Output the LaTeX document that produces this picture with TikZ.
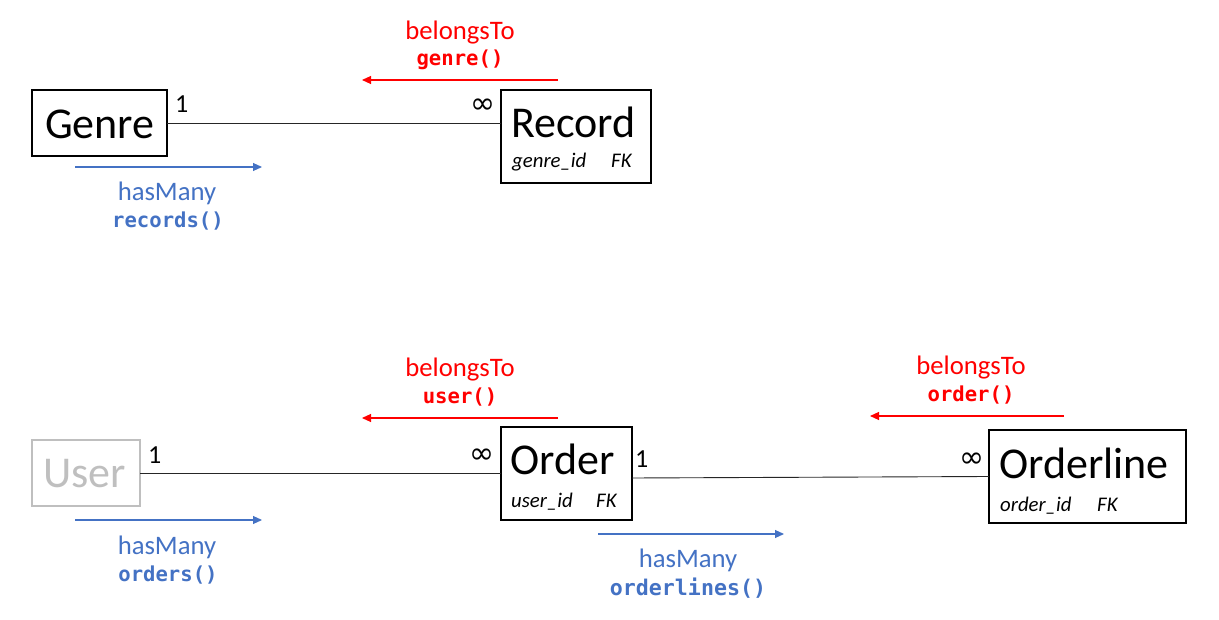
\documentclass[tikz,border=0pt]{standalone}
\usepackage{fontspec}
\setmainfont{Carlito}
\newfontfamily\codefont{DejaVu Sans Mono}
\newfontfamily\symfont{DejaVu Sans}
\usetikzlibrary{arrows.meta}
\definecolor{relred}{HTML}{FF0000}
\definecolor{relblue}{HTML}{4472C4}
\definecolor{ghost}{HTML}{BFBFBF}
\begin{document}
\begin{tikzpicture}[x=1pt,y=-1pt,
  ebox/.style={draw, line width=1.2pt, inner sep=0pt, outer sep=0pt},
  bigtxt/.style={inner sep=0pt, anchor=base west, font=\fontsize{44}{50}\selectfont},
  subtxt/.style={inner sep=0pt, anchor=base west, font=\fontsize{20.8}{24}\selectfont\itshape},
  card/.style={inner sep=0pt, anchor=base west, font=\fontsize{26}{28}\selectfont},
  many/.style={inner sep=0pt, anchor=center, font=\fontsize{30}{32}\selectfont\symfont},
  rel/.style={inner sep=0pt, anchor=base, font=\fontsize{26.7}{30}\selectfont},
  code/.style={inner sep=0pt, anchor=base, font=\fontsize{20.6}{24}\selectfont\codefont\bfseries},
  link/.style={line width=0.9pt, draw=black!85},
  dirarrow/.style={line width=1.1pt, -{Triangle[length=9pt,width=8pt]}},
]
\useasboundingbox (0,0) rectangle (1219,620);

% entity boxes
\node[ebox, minimum width=135pt, minimum height=66pt] (genre) at (99.5,123) {};
\node[ebox, minimum width=150pt, minimum height=93pt] (record) at (576,136.5) {};
\node[ebox, draw=ghost, minimum width=108pt, minimum height=66pt] (user) at (86,473) {};
\node[ebox, minimum width=131pt, minimum height=93pt] (order) at (566.5,473.5) {};
\node[ebox, minimum width=197pt, minimum height=93pt] (orderline) at (1087.5,476.5) {};

% entity texts
\node[bigtxt] (genreT) at (45,139) {Genre};
\node[bigtxt] (recordT) at (511,138) {Record};
\node[subtxt] (recordK) at (512,168) {genre\_id};
\node[subtxt] (recordFK) at (611,168) {FK};
\node[bigtxt, text=ghost] (userT) at (43,487) {User};
\node[bigtxt] (orderT) at (510,474) {Order};
\node[subtxt] (orderK) at (511,507) {user\_id};
\node[subtxt] (orderFK) at (596,507) {FK};
\node[bigtxt] (orderlineT) at (999,478) {Orderline};
\node[subtxt] (orderlineK) at (1000,511) {order\_id};
\node[subtxt] (orderlineFK) at (1097,511) {FK};

% cardinalities
\node[card] (c1) at (175,113) {1};
\node[many] (c2) at (483,106) {∞};
\node[card] (c3) at (148,463) {1};
\node[many] (c4) at (482,456) {∞};
\node[card] (c5) at (635,467) {1};
\node[many] (c6) at (972,460) {∞};

% relationship lines
\draw[link] (genre.east) -- (genre.east -| record.west);
\draw[link] (user.east) -- (user.east -| order.west);
\draw[link] ([yshift=-4.5pt]order.east) -- (orderline.west);

% direction arrows
\coordinate (a1s) at (558,80);  \coordinate (a1e) at (362,80);
\coordinate (a2s) at (75,167);  \coordinate (a2e) at (262,167);
\coordinate (a3s) at (558,418); \coordinate (a3e) at (362,418);
\coordinate (a4s) at (75,520);  \coordinate (a4e) at (262,520);
\coordinate (a5s) at (1064,416); \coordinate (a5e) at (870,416);
\coordinate (a6s) at (598,534); \coordinate (a6e) at (784,534);
\draw[dirarrow, relred] (a1s) -- (a1e);
\draw[dirarrow, relblue] (a2s) -- (a2e);
\draw[dirarrow, relred] (a3s) -- (a3e);
\draw[dirarrow, relblue] (a4s) -- (a4e);
\draw[dirarrow, relred] (a5s) -- (a5e);
\draw[dirarrow, relblue] (a6s) -- (a6e);

% labels
\node[rel, text=relred] (l1) at (460,40) {belongsTo};
\node[code, text=relred] (m1) at (460,66) {genre()};
\node[rel, text=relblue] (l2) at (167,201) {hasMany};
\node[code, text=relblue] (m2) at (168,228) {records()};
\node[rel, text=relred] (l3) at (460,377) {belongsTo};
\node[code, text=relred] (m3) at (460,404) {user()};
\node[rel, text=relblue] (l4) at (167,554) {hasMany};
\node[code, text=relblue] (m4) at (168,581) {orders()};
\node[rel, text=relred] (l5) at (971,375) {belongsTo};
\node[code, text=relred] (m5) at (971,402) {order()};
\node[rel, text=relblue] (l6) at (688,567) {hasMany};
\node[code, text=relblue, font=\fontsize{21.6}{26}\selectfont\codefont\bfseries] (m6) at (688,595) {orderlines()};
\end{tikzpicture}
\end{document}
